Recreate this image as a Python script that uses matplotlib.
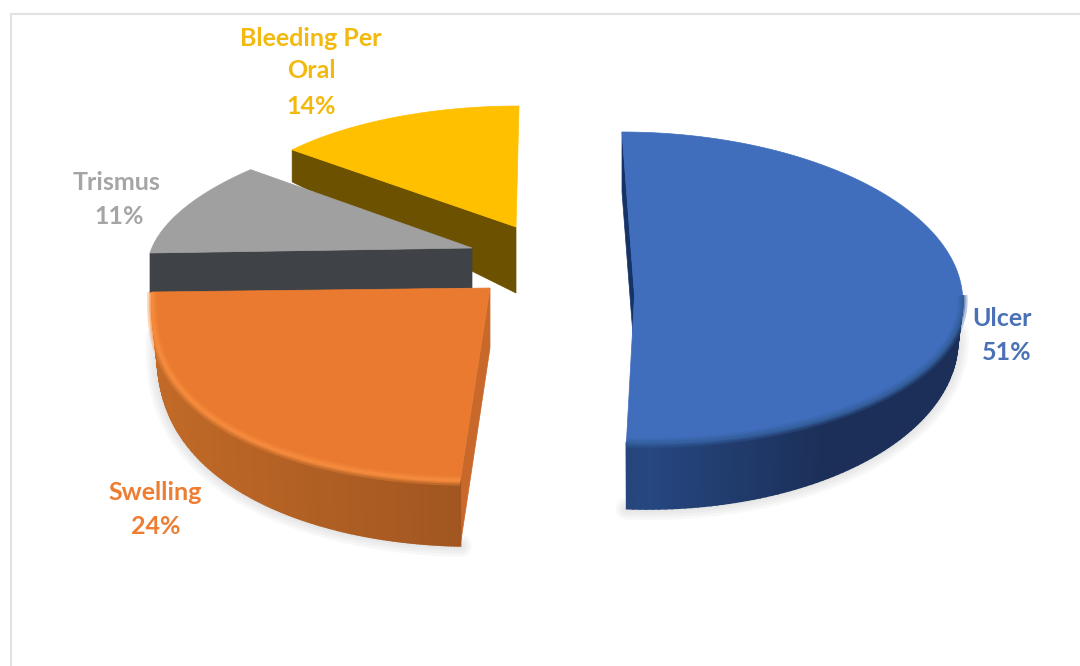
# 3D style exploded pie of presenting symptoms

import matplotlib.pyplot as plt
import matplotlib.colors as mcolors
from matplotlib.patches import Polygon
import numpy as np

# Data
categories = ['Ulcer', 'Swelling', 'Trismus', 'Bleeding Per\nOral']
percents = [51, 24, 11, 14]

# Colours
top_colors = ['#406EBD', '#E97A2F', '#A0A0A0', '#FFC000']
face_colors = ['#163368', '#C8682B', '#3F4246', '#6B5100']
wall_left = ['#264780', '#C26A28', '#404040', '#6B5100']
wall_right = ['#1B2F58', '#9F5520', '#404040', '#6B5100']
bevel_colors = ['#35609F', '#F78C3E', '#A0A0A0', '#FFC000']
label_colors = ['#4A70B5', '#ED7D31', '#A5A5A5', '#F2B90F']

# Geometry of each exploded slice, in pixels of the figure
slice_cx = [634.5, 490, 472, 516]
slice_cy = [295, 288, 248, 227]
slice_rx = [328, 338, 322, 293]
slice_ry_back = [163, 160, 129, 121]
slice_ry_front = [148, 193, 129, 121]
slice_shear = [-12.5, 8.6, 42, 3]
slice_tilt = [0, -4, -5, 0]
slice_power = [1.0, 0.8, 1.0, 1.0]
depth_rim = [60, 65, 40, 32]
depth_tip = [60, 60, 40, 66]
wall_d0 = [38, 45, 0, 0]
wall_d1 = [28, 20, 0, 0]

# Label anchor for each line of text
label_x = [[1002, 1007], [155, 156], [117, 119], [311, 311, 311]]
label_y = [[318, 352], [492, 527], [183, 217], [38, 71, 106]]

draw_order = [3, 2, 1, 0]


def rim_point(i, a, inset=1.0):
    # a in degrees clockwise from the top of the pie
    t = np.radians(a)
    c = np.cos(t)
    if c >= 0:
        dy = -slice_ry_back[i] * c
    else:
        dy = slice_ry_front[i] * abs(c) ** slice_power[i]
    x = slice_cx[i] + inset * slice_rx[i] * np.sin(t) + slice_shear[i] * c
    return x, slice_cy[i] + dy + slice_tilt[i] * np.sin(t)


def wall_depth(i, a):
    return wall_d0[i] + wall_d1[i] * abs(np.cos(np.radians(a)))


fig = plt.figure(figsize=(10.8, 6.66), dpi=100)
ax = fig.add_axes([0, 0, 1, 1])
ax.set_xlim(0, 1080)
ax.set_ylim(666, 0)
ax.axis('off')

# Chart frame, only top and left are in the picture
ax.plot([1080, 11, 11], [13.5, 13.5, 666], color='#E2E2E2', lw=1.5)

starts = np.cumsum([0] + percents[:-1]) * 3.6
ends = np.cumsum(percents) * 3.6

for i in draw_order:
    angles = np.linspace(starts[i], ends[i], 160)
    rim = [rim_point(i, a) for a in angles]
    tip = (slice_cx[i], slice_cy[i])
    first = rim[0]
    front = [a for a in angles if 90 <= a <= 270]

    # Soft shadow under the outer wall
    if front:
        low = [rim_point(i, a, 0.985) for a in front]
        sx = [p[0] for p in low]
        sy = [p[1] + wall_depth(i, a) for p, a in zip(low, front)]
        for lw in [16, 12, 8, 4]:
            ax.plot(sx, sy, color='#808080', alpha=0.05, lw=lw,
                    solid_capstyle='round', zorder=1)

    # Cut face
    ax.add_patch(Polygon([first, tip,
                          (tip[0], tip[1] + depth_tip[i]),
                          (first[0], first[1] + depth_rim[i])],
                         closed=True, fc=face_colors[i], ec=face_colors[i], lw=0.5, zorder=2))

    # Outer wall, split in strips for the gradient
    if front:
        c0 = np.array(mcolors.to_rgb(wall_left[i]))
        c1 = np.array(mcolors.to_rgb(wall_right[i]))
        for k in range(len(front) - 1):
            a0, a1 = front[k], front[k + 1]
            p0 = rim_point(i, a0)
            p1 = rim_point(i, a1)
            q0 = rim_point(i, a0, 0.985)
            q1 = rim_point(i, a1, 0.985)
            frac = abs(np.sin(np.radians((a0 + a1) / 2)))
            # the blue wall goes dark fast, the orange one is darkest at the front
            f = min(1, frac * 1.8) if i == 0 else 1 - frac
            col = c0 + (c1 - c0) * f
            ax.add_patch(Polygon([p0, p1, (q1[0], q1[1] + wall_depth(i, a1)),
                                  (q0[0], q0[1] + wall_depth(i, a0))],
                                 closed=True, fc=col, ec=col, lw=1.2, zorder=3))

    # Top surface
    ax.add_patch(Polygon([tip] + rim, closed=True, fc=top_colors[i],
                         ec=top_colors[i], lw=0.5, zorder=4))

    # Soft bevel along the front rim
    if front:
        bx = [rim_point(i, a)[0] for a in front]
        by = [rim_point(i, a)[1] for a in front]
        for lw, alpha in [(7, 0.35), (4, 0.5), (2, 0.7)]:
            ax.plot(bx, by, color=bevel_colors[i], lw=lw, alpha=alpha, zorder=5,
                    solid_capstyle='butt')

# Labels, one text per line
for i in range(len(categories)):
    lines = categories[i].split('\n') + [f'{percents[i]}%']
    for j, line in enumerate(lines):
        ax.text(label_x[i][j], label_y[i][j], line, color=label_colors[i],
                fontsize=18, fontweight='bold', family='Lato',
                ha='center', va='center', zorder=6)

plt.savefig('out.png', dpi=100)
